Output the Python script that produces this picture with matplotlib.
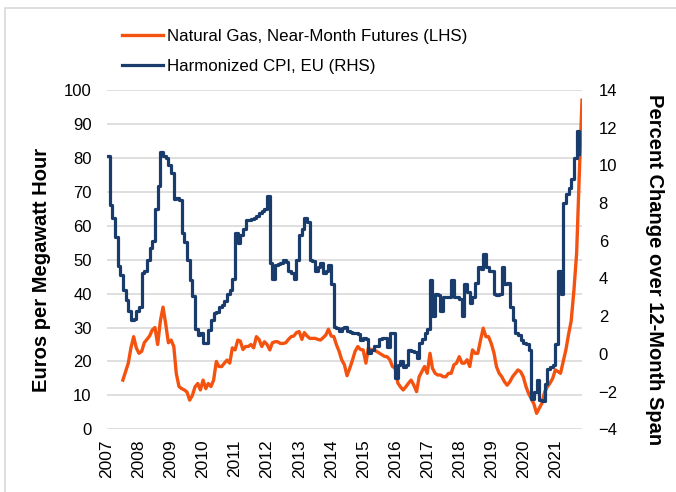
import matplotlib
matplotlib.use("Agg")
import matplotlib.pyplot as plt
import matplotlib.dates as mdates
import pandas as pd
from matplotlib.patches import Rectangle

plt.rcParams["font.family"] = ["Liberation Sans", "DejaVu Sans"]

# Natural gas near-month futures, EUR/MWh, monthly from Jul 2007
gas_start = "2007-07-01"
gas_eur_mwh = [
    14.5, 17.0, 19.5, 24.0, 27.3, 24.0,                                  # 2007 H2
    22.4, 23.0, 25.5, 26.5, 27.5, 29.3, 30.0, 25.0, 32.0, 36.0, 31.0, 25.5,  # 2008
    26.3, 24.4, 16.5, 12.6, 12.0, 11.6, 11.0, 8.6, 10.0, 12.5, 13.5, 11.6,   # 2009
    14.5, 12.0, 13.5, 12.6, 14.5, 20.0, 18.5, 18.5, 19.5, 20.4, 19.5, 24.0,  # 2010
    23.4, 26.3, 26.0, 23.5, 24.4, 24.4, 25.0, 24.0, 27.3, 26.5, 24.4, 25.8,  # 2011
    25.0, 23.4, 25.5, 25.8, 25.8, 25.3, 25.3, 25.5, 26.5, 27.3, 27.5, 28.5,  # 2012
    28.8, 26.5, 28.5, 27.5, 26.8, 26.8, 26.8, 26.5, 26.3, 27.0, 27.8, 29.5,  # 2013
    27.5, 27.3, 25.0, 23.0, 20.5, 19.0, 15.8, 18.0, 20.4, 23.0, 24.4, 23.5,  # 2014
    23.4, 19.5, 24.0, 23.4, 23.4, 23.0, 22.5, 22.0, 21.5, 21.4, 20.5, 18.5,  # 2015
    18.0, 13.6, 12.5, 11.6, 12.5, 13.6, 14.5, 13.0, 11.1, 15.5, 17.0, 18.5,  # 2016
    16.5, 22.4, 18.0, 16.5, 16.0, 16.0, 15.5, 15.5, 16.5, 16.5, 19.0, 19.5,  # 2017
    21.4, 19.5, 19.5, 20.5, 18.5, 23.4, 22.4, 22.4, 26.3, 29.8, 27.3, 27.3,  # 2018
    25.3, 22.5, 18.5, 16.5, 15.5, 14.0, 13.0, 14.0, 15.5, 16.5, 17.5, 17.0,  # 2019
    15.5, 12.6, 10.6, 9.0, 7.5, 4.7, 6.2, 7.7, 11.0, 12.5, 13.6, 15.0,       # 2020
    17.5, 17.0, 16.5, 20.0, 23.4, 28.0, 32.0, 41.0, 52.0, 75.0, 97.0,        # 2021
]

# Harmonized CPI, EU, percent change over 12 months, monthly from Jan 2007
cpi_start = "2007-01-01"
cpi_pct = [
    10.5, 7.9, 7.2, 6.2, 4.64, 4.2, 3.4, 2.85, 2.25, 1.8, 1.85, 2.25,        # 2007
    2.5, 4.3, 4.4, 5.0, 5.6, 6.0, 7.7, 8.9, 10.7, 10.5, 10.4, 10.0,          # 2008
    9.6, 8.2, 8.25, 8.15, 6.4, 5.95, 4.98, 3.9, 3.05, 1.3, 1.0, 1.1,         # 2009
    0.56, 0.6, 1.27, 1.8, 2.15, 2.2, 2.5, 2.6, 2.8, 3.2, 3.4, 4.0,           # 2010
    6.4, 5.9, 6.3, 6.6, 7.1, 7.1, 7.15, 7.2, 7.3, 7.5, 7.6, 7.7,             # 2011
    8.4, 4.8, 3.95, 4.7, 4.75, 4.8, 5.0, 4.9, 4.4, 4.3, 4.0, 5.0,            # 2012
    6.3, 6.6, 7.2, 7.0, 5.0, 4.95, 4.4, 4.6, 4.8, 4.3, 4.4, 4.7,             # 2013
    3.7, 1.45, 1.4, 1.2, 1.4, 1.45, 1.2, 1.15, 1.1, 1.1, 1.05, 0.74,         # 2014
    0.83, 0.8, 0.05, 0.2, 0.4, 0.4, 0.8, 0.85, 0.85, 0.38, 1.1, 1.1,         # 2015
    -1.3, -0.6, -0.4, -0.7, -0.6, 0.2, 0.15, 0.1, -0.2, 0.6, 0.8, 1.1,       # 2016
    1.3, 3.9, 2.0, 3.2, 3.1, 2.3, 3.0, 3.0, 3.0, 3.9, 3.0, 3.0,              # 2017
    2.9, 2.0, 3.7, 3.3, 2.7, 3.0, 3.75, 4.6, 4.5, 5.3, 4.6, 4.4,             # 2018
    4.4, 3.2, 3.1, 3.2, 4.6, 3.7, 3.75, 2.5, 1.8, 1.1, 1.0, 0.74,            # 2019
    0.6, 0.55, 0.2, -2.4, -2.0, -1.4, -2.45, -2.5, -1.6, -0.8, -0.7, -0.6,   # 2020
    0.5, 4.4, 3.2, 8.0, 8.5, 8.8, 9.3, 10.4, 11.8, 10.6,                     # 2021
]

years = list(range(2007, 2022))

gas_label = "Natural Gas, Near-Month Futures (LHS)"
cpi_label = "Harmonized CPI, EU (RHS)"
orange = "#f4520f"
navy = "#1a3c6c"
grid_grey = "#d9d9d9"

gas_dates = pd.date_range(gas_start, periods=len(gas_eur_mwh), freq="MS")
cpi_dates = pd.date_range(cpi_start, periods=len(cpi_pct), freq="MS")

fig = plt.figure(figsize=(6.76, 4.92), dpi=100)
fig.patches.append(Rectangle((5 / 676, -0.1), 2.0, 1.1 - 8 / 492,
                             transform=fig.transFigure, fill=False,
                             edgecolor=grid_grey, linewidth=1.2))

ax = fig.add_axes([107 / 676, 1 - 429.3 / 492, 475 / 676, 339.3 / 492])
ax2 = ax.twinx()

l1, = ax.plot(gas_dates, gas_eur_mwh, color=orange, linewidth=2.4,
              label=gas_label)
l2, = ax2.plot(cpi_dates, cpi_pct, color=navy, linewidth=2.3,
               drawstyle="steps-post", label=cpi_label)

ax.set_xlim(pd.Timestamp("2007-01-01"), pd.Timestamp("2021-11-01"))
ax.set_ylim(0, 100)
ax2.set_ylim(-4, 14)
ax.set_yticks(range(0, 101, 10))
ax2.set_yticks(range(-4, 15, 2))
ax.set_xticks([pd.Timestamp(f"{y}-01-01") for y in years])
ax.xaxis.set_major_formatter(mdates.DateFormatter("%Y"))

ax.grid(axis="y", color=grid_grey, linewidth=1.2)
ax.set_axisbelow(True)
for a in (ax, ax2):
    for s in a.spines.values():
        s.set_visible(False)
    a.tick_params(length=0, labelsize=12, colors="black")
ax.tick_params(axis="y", pad=11)
ax2.tick_params(axis="y", pad=12)
ax.tick_params(axis="x", pad=7, labelrotation=90, labelsize=12.5)

ax.set_ylabel("Euros per Megawatt Hour", fontsize=14.5, fontweight="bold",
              labelpad=9)
ax2.set_ylabel("Percent Change over 12-Month Span", fontsize=14.5,
               fontweight="bold", rotation=270, labelpad=33)
# Excel places both axis titles a little below the plot's middle
ax.yaxis.label.set_y(0.47)
ax2.yaxis.label.set_y(0.47)

fig.legend([l1, l2], [gas_label, cpi_label], loc="upper left",
           bbox_to_anchor=(122 / 676, 1 - 29 / 492), frameon=False,
           fontsize=12.2, handlelength=2.4, handletextpad=0.25,
           labelspacing=0.9, borderpad=0, borderaxespad=0)

fig.savefig("out.png", dpi=100)
